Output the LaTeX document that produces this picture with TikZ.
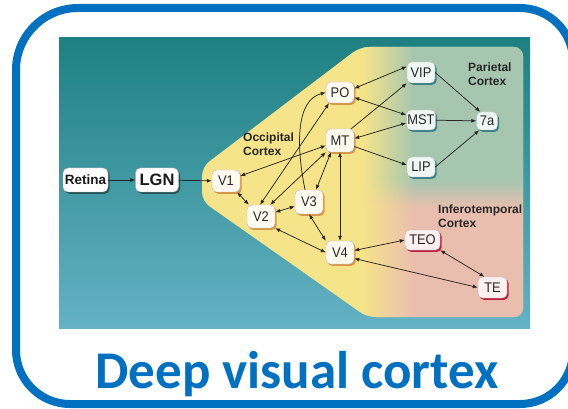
\documentclass[tikz,border=0pt]{standalone}
\usepackage{fontspec}
\setmainfont{Liberation Sans}
\newfontfamily\areafont[FakeStretch=0.92]{Liberation Sans}
\newfontfamily\titlefont{Carlito}
\usetikzlibrary{arrows.meta,shadows}

\definecolor{frameblue}{HTML}{0070C0}
\definecolor{tealtop}{RGB}{30,128,130}
\definecolor{tealbot}{RGB}{100,178,196}
\definecolor{occ}{RGB}{246,228,138}
\definecolor{par}{RGB}{166,198,176}
\definecolor{itc}{RGB}{234,190,174}
\definecolor{occfill}{RGB}{255,251,240}
\definecolor{parfill}{RGB}{238,247,243}
\definecolor{itfill}{RGB}{252,240,241}
\definecolor{shocc}{RGB}{214,150,70}
\definecolor{shpar}{RGB}{60,128,138}
\definecolor{shit}{RGB}{190,30,60}
\definecolor{shin}{RGB}{40,84,86}
\definecolor{ink}{RGB}{40,38,34}

\tikzset{
  area/.style={rounded corners=4.5pt, draw=black!30, line width=0.4pt,
    inner sep=1pt, minimum width=28pt, minimum height=21pt,
    font=\areafont\fontsize{14}{14}\selectfont, text=black!85},
  occnode/.style={area, fill=occfill,
    drop shadow={shadow xshift=1.6pt, shadow yshift=-1.8pt, fill=shocc, opacity=1}},
  parnode/.style={area, fill=parfill,
    drop shadow={shadow xshift=1.6pt, shadow yshift=-1.8pt, fill=shpar, opacity=1}},
  itnode/.style={area, fill=itfill,
    drop shadow={shadow xshift=1.6pt, shadow yshift=-1.8pt, fill=shit, opacity=1}},
  innode/.style={rounded corners=5pt, draw=black!30, line width=0.4pt,
    fill=white, inner sep=1pt, minimum height=24pt, text=black!90,
    drop shadow={shadow xshift=1.6pt, shadow yshift=-1.8pt, fill=shin, opacity=1}},
  zonelabel/.style={align=left, inner sep=0pt, anchor=west, text=black!85,
    font=\bfseries\fontsize{12}{14}\selectfont},
  one/.style={draw=ink, line width=0.75pt, -{Latex[length=5pt,width=4pt]}},
  two/.style={draw=ink, line width=0.75pt,
    {Latex[length=5pt,width=4pt]}-{Latex[length=5pt,width=4pt]}},
}

\begin{document}
\begin{tikzpicture}[x=1pt, y=-1pt]
\fill[white] (0,0) rectangle (568,409);
\useasboundingbox (0,0) rectangle (568,409);

% outer frame
\draw[frameblue, line width=8pt]
  (300,8) -- (520,8) .. controls (549.3,8) and (573,31.7) .. (573,61)
  -- (573,351) .. controls (573,380.3) and (549.3,404) .. (520,404)
  -- (70,404) .. controls (40.2,404) and (16,379.8) .. (16,350)
  -- (16,70) .. controls (16,35.8) and (43.8,8) .. (78,8) -- cycle;

% teal plate
\shade[top color=tealtop, bottom color=tealbot] (59,38) rectangle (530,328);

% cortical zones
\begin{scope}
  \clip[rounded corners=9pt] (360,47) -- (523,47) -- (523,317) -- (367,317)
    -- (202,201) -- (202,167) -- cycle;
  \fill[occ] (195,40) rectangle (530,325);
  \shade[left color=occ, right color=par] (362,40) rectangle (414.5,181.5);
  \fill[par] (414,40) rectangle (530,181.5);
  \shade[left color=occ, right color=itc] (362,208.5) rectangle (414.5,325);
  \fill[itc] (414,208.5) rectangle (530,325);
  \foreach \k in {0,...,13}{
    \pgfmathsetmacro\p{(\k+0.5)*100/14}
    \colorlet{mixc}{itc!\p!par}
    \shade[left color=occ, right color=mixc] (362,181+2*\k) rectangle (414.5,183.4+2*\k);
    \fill[mixc] (414,181+2*\k) rectangle (530,183.4+2*\k);
  }
\end{scope}

% zone labels
\node[zonelabel] (occlbl) at (243,144.5) {Occipital\\Cortex};
\node[zonelabel] (parlbl) at (468,74) {Parietal\\Cortex};
\node[zonelabel] (itlbl) at (438,216) {Inferotemporal\\Cortex};

% areas
\node[innode, minimum width=45pt, font=\bfseries\fontsize{13.5}{14}\selectfont] (Retina) at (85.5,180) {Retina};
\node[innode, minimum width=43pt, font=\bfseries\fontsize{16.5}{17}\selectfont] (LGN) at (157,180) {LGN};
\node[occnode, minimum height=22pt] (V1) at (226,181) {V1};
\node[occnode, minimum height=23pt] (V2) at (261,216.5) {V2};
\node[occnode, minimum height=24pt] (V3) at (309,202) {V3};
\node[occnode, minimum height=23pt] (V4) at (340,252.5) {V4};
\node[occnode] (PO) at (340,92.5) {PO};
\node[occnode, minimum height=23pt] (MT) at (340,140.5) {MT};
\node[parnode] (VIP) at (421,72.5) {VIP};
\node[parnode, minimum height=20pt] (MST) at (421,120) {MST};
\node[parnode, minimum height=20pt] (LIP) at (421,167) {LIP};
\node[parnode, minimum width=21pt, minimum height=18pt] (A7) at (487,121) {7a};
\node[itnode, minimum width=35pt, minimum height=20pt] (TEO) at (422.5,240) {TEO};
\node[itnode, minimum width=29pt] (TE) at (492.5,287.5) {TE};

% pathways
\draw[one] (Retina) -- (LGN);
\draw[one] (LGN) -- (V1);
\draw[two] ([xshift=-3pt]V1.south east) -- ([xshift=2pt]V2.north west);
\draw[two] (V1) -- (MT);
\draw[two] ([xshift=-1pt]V2.north) -- ([xshift=-11pt]PO.south);
\draw[two] ([xshift=-5pt]V2.north east) -- (MT.south west);
\draw[two] (V2) -- (V3);
\draw[two] (V2.south east) -- (V4.west);
\draw[two] (V3.south) -- (V4.north west);
\draw[two] ([xshift=-9pt]MT.south) -- ([xshift=7pt]V3.north);
\draw[two] (MT) -- (V4);
\draw[one] ([xshift=-4pt]V3.north) .. controls (296,145) and (296,100) .. (PO.west);
\draw[two] ([yshift=4pt]PO.east) -- ([yshift=6pt]VIP.west);
\draw[two] ([yshift=-5pt]PO.east) -- ([yshift=5pt]MST.west);
\draw[one] ([xshift=-3pt]MT.north east) -- (VIP.south west);
\draw[two] ([yshift=2pt]MT.east) -- ([yshift=-3pt]MST.west);
\draw[one] ([yshift=-6pt]MT.east) -- ([yshift=2pt]LIP.west);
\draw[one] (VIP.east) -- ([xshift=4pt]A7.north west);
\draw[one] (MST) -- (A7);
\draw[one] (LIP.east) -- ([xshift=3pt]A7.south west);
\draw[two] ([yshift=2pt]V4.east) -- (TEO.west);
\draw[two] ([yshift=-6pt]V4.east) -- (TE.west);
\draw[two] (TEO.south east) -- ([xshift=-8pt]TE.north);

% caption
\node[font=\titlefont\bfseries\fontsize{53}{60}\selectfont, text=frameblue,
  anchor=base, inner sep=0pt] (title) at (297,388) {Deep visual cortex};
\end{tikzpicture}
\end{document}
